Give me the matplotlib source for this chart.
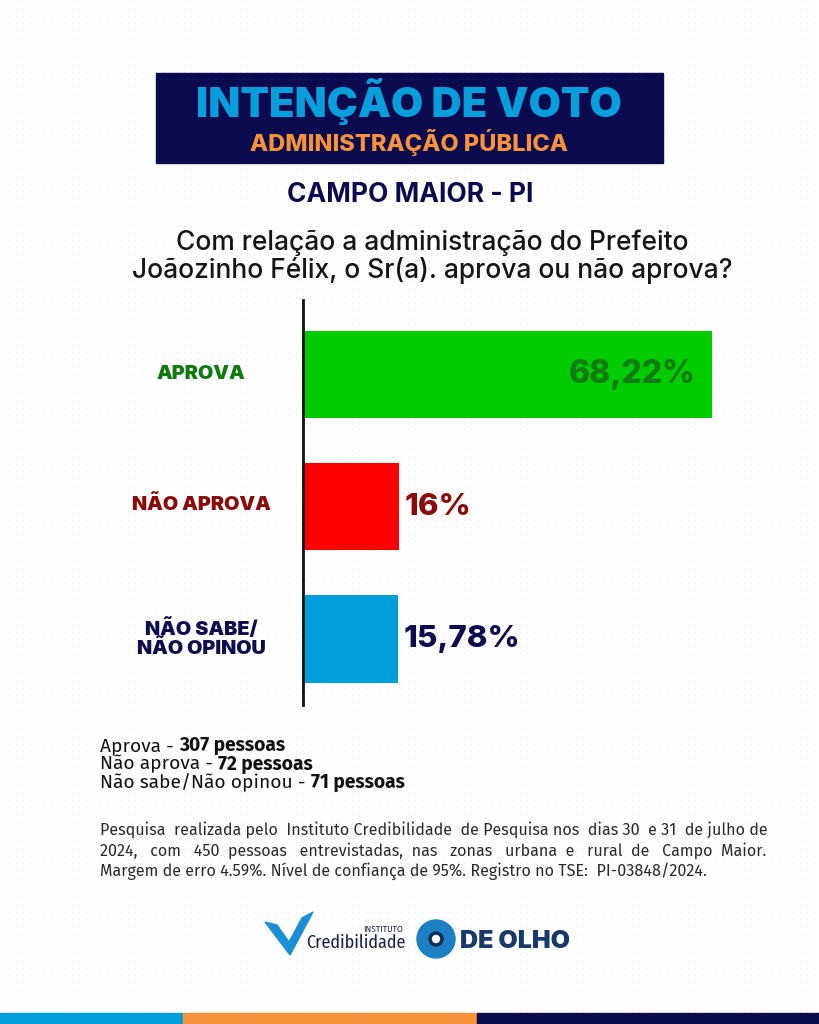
import matplotlib
matplotlib.use("Agg")
import matplotlib.pyplot as plt
from matplotlib.patches import Rectangle, Polygon, Circle
import numpy as np

W, H = 819, 1024

categories = ["APROVA", "NÃO APROVA", "NÃO SABE/\nNÃO OPINOU"]
values = [68.22, 16.0, 15.78]
value_labels = ["68,22%", "16%", "15,78%"]
bar_colors = ["#00cc00", "#ff0000", "#009fdb"]
label_colors = ["#0f7a10", "#8b0a0a", "#0c0c4f"]
value_colors = ["#137a14", "#8b0a0a", "#0c0c4f"]

count_names = ["Aprova - ", "Não aprova - ", "Não sabe/Não opinou - "]
count_values = ["307 pessoas", "72 pessoas", "71 pessoas"]

title1 = "INTENÇÃO DE VOTO"
title2 = "ADMINISTRAÇÃO PÚBLICA"
place = "CAMPO MAIOR - PI"
question = ["Com relação a administração do Prefeito",
            "Joãozinho Félix, o Sr(a). aprova ou não aprova?"]
note_lines = ["Pesquisa realizada pelo  Instituto Credibilidade de Pesquisa nos dias 30 e 31 de julho de",
              "2024, com 450 pessoas entrevistadas, nas zonas urbana e rural de Campo Maior.",
              "Margem de erro 4.59%. Nível de confiança de 95%. Registro no TSE:  PI-03848/2024."]

NAVY = "#0b0a4e"
HEAD = ["Inter", "DejaVu Sans"]
BODY = ["Fira Sans", "DejaVu Sans"]

fig = plt.figure(figsize=(W / 100, H / 100), dpi=100)
fig.patch.set_facecolor("white")

# background dot pattern
bg = fig.add_axes([0, 0, 1, 1], zorder=0)
bg.set_xlim(0, W); bg.set_ylim(H, 0); bg.axis("off")
gx, gy = np.meshgrid(np.arange(2, W, 7), np.arange(2, H, 7))
bg.scatter(gx.ravel(), gy.ravel(), s=0.6, color="#e4e4e4", linewidths=0)

# header box
bg.add_patch(Rectangle((156, 73), 507, 90, color=NAVY, zorder=2))
# bottom stripes
bg.add_patch(Rectangle((0, 1013), 183, 11, color="#009fdb", zorder=2))
bg.add_patch(Rectangle((183, 1013), 294, 11, color="#f7923a", zorder=2))
bg.add_patch(Rectangle((477, 1013), 342, 11, color=NAVY, zorder=2))


def T(x, y, s, **kw):
    return fig.text(x / W, 1 - y / H, s, **kw)


T(409, 117, title1, ha="center", va="baseline", color="#069fdc", fontsize=30,
  fontweight="black", family=HEAD, zorder=5)
T(409, 150.5, title2, ha="center", va="baseline", color="#f7923a", fontsize=17,
  fontweight="heavy", family=HEAD, zorder=5)
T(410, 202, place, ha="center", va="baseline", color=NAVY, fontsize=19,
  fontweight="bold", family=HEAD)
T(432, 250, question[0], ha="center", va="baseline", color="#151515", fontsize=19,
  fontweight="medium", family=HEAD)
T(432, 278, question[1], ha="center", va="baseline", color="#151515", fontsize=19,
  fontweight="medium", family=HEAD)

# bar chart
x0, x1 = 303, 720
y0, y1 = 300, 705
ax = fig.add_axes([x0 / W, 1 - y1 / H, (x1 - x0) / W, (y1 - y0) / H], zorder=3)
ax.patch.set_alpha(0)
px_per_unit = 6.0
ax.set_xlim(0, (x1 - x0) / px_per_unit)
ypos = np.arange(len(categories))
ax.set_ylim(2.5, -0.564)
ax.barh(ypos, values, height=0.66, color=bar_colors)
for s in ["top", "right", "bottom"]:
    ax.spines[s].set_visible(False)
ax.spines["left"].set_linewidth(2)
ax.spines["left"].set_color("#111111")
ax.set_xticks([])
ax.set_yticks([])

for i, (v, lab, c) in enumerate(zip(values, value_labels, value_colors)):
    if i == 0:
        ax.text(v - 2.7, i, lab, ha="right", va="center", color=c, fontsize=23,
                fontweight="heavy", family=HEAD)
    else:
        ax.text(v + 0.9, i, lab, ha="left", va="center", color=c, fontsize=22.5,
                fontweight="heavy", family=HEAD)

label_y = [374, 505, 638]
for cat, c, yy in zip(categories, label_colors, label_y):
    T(201, yy, cat, ha="center", va="center", color=c, fontsize=14.3,
      fontweight="black", family=HEAD, linespacing=1.0)

# counts
for k, (n, v) in enumerate(zip(count_names, count_values)):
    yy = 751 + k * 18.5
    t = T(100, yy, n, ha="left", va="baseline", color="#111111", fontsize=13.8, family=BODY)
    fig.canvas.draw()
    bb = t.get_window_extent()
    T(bb.x1, yy, v, ha="left", va="baseline", color="#111111",
      fontsize=13.8, fontweight="bold", family=BODY)

# justified note (extra spaces distributed between words)
fig.canvas.draw()
renderer = fig.canvas.get_renderer()
left, right = 100, 767
note_kw = dict(ha="left", va="baseline", color="#2a2a2a", fontsize=11.6, family=BODY)


def measure(s):
    t = T(0, -100, s, **note_kw)
    w = t.get_window_extent(renderer).width
    t.remove()
    return w


space_w = measure("a a") - measure("aa")
for k, line in enumerate(note_lines):
    yy = 835 + k * 20.5
    if k < 2:
        words = line.split()
        base = " ".join(words)
        extra = (right - left) - measure(base)
        n_extra = max(0, int(round(extra / space_w)))
        ngaps = len(words) - 1
        gaps = [1] * ngaps
        for i in range(n_extra):
            gaps[(i * ngaps) // max(n_extra, 1) % ngaps] += 1
        s = words[0]
        for g, w_ in zip(gaps, words[1:]):
            s += " " * g + w_
        T(left, yy, s, **note_kw)
    else:
        T(left, yy, line, **note_kw)

# logos (simplified)
bg.add_patch(Polygon([[265, 922], [290, 955], [313, 912], [302, 918], [289, 942], [277, 925]],
                     closed=True, color="#1a8fd6", zorder=3))
T(306, 943, "Credibilidade", ha="left", va="center", color="#1b1f4f", fontsize=13,
  family=["Fira Sans Condensed", "DejaVu Sans"])
T(403, 929, "INSTITUTO", ha="right", va="center", color="#1b1f4f", fontsize=6, family=BODY)
bg.add_patch(Circle((436, 939), 19, color="#1d7fc4", zorder=3))
bg.add_patch(Circle((436, 939), 7, color="#0f2f5a", zorder=4))
bg.add_patch(Circle((436, 939), 3.5, color="#ffffff", zorder=5))
T(460, 941, "DE OLHO", ha="left", va="center", color="#173a6b", fontsize=18,
  fontweight="black", family=HEAD)

fig.savefig("out.png", dpi=100, facecolor="white")
